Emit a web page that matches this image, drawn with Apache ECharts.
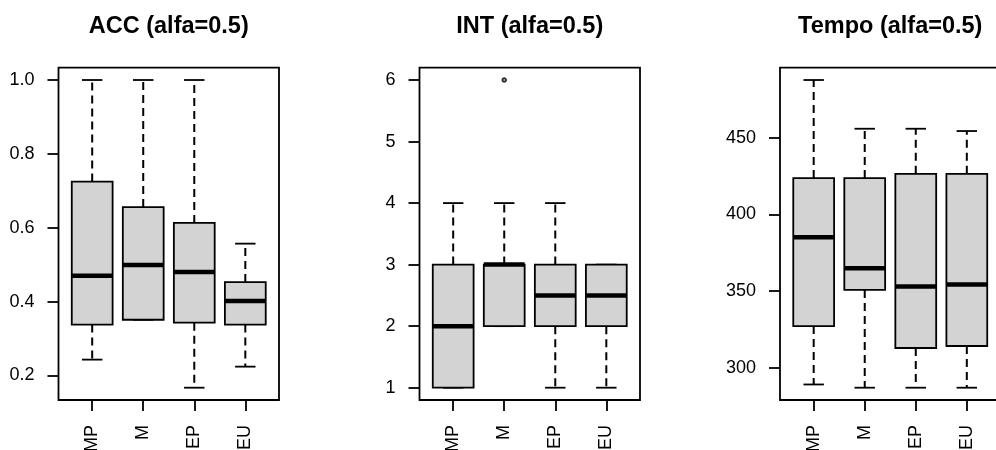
<!DOCTYPE html>
<html>
<head>
<meta charset="utf-8">
<script src="https://cdn.jsdelivr.net/npm/echarts@6/dist/echarts.min.js"></script>
<style>
  html, body { margin: 0; padding: 0; background: #fff; }
  #chart { width: 996px; height: 450px; }
</style>
</head>
<body>
<div id="chart"></div>
<script>
// Groups shown on every panel
const categories = ['MP', 'M', 'EP', 'EU'];

// Five-number summaries per group: [lower whisker, Q1, median, Q3, upper whisker]
const accStats = [
  [0.243, 0.338, 0.470, 0.725, 1.000],
  [0.351, 0.351, 0.499, 0.656, 1.000],
  [0.167, 0.343, 0.480, 0.613, 1.000],
  [0.224, 0.338, 0.402, 0.453, 0.557]
];
const intStats = [
  [1, 1, 2, 3, 4],
  [2, 2, 3, 3, 4],
  [1, 2, 2.5, 3, 4],
  [1, 2, 2.5, 3, 3]
];
const tempoStats = [
  [289.0, 327.1, 385.1, 423.7, 487.7],
  [286.9, 350.7, 364.9, 423.7, 455.9],
  [286.9, 312.8, 352.9, 426.5, 455.9],
  [286.9, 314.1, 354.2, 426.5, 454.4]
];

// Points beyond the whiskers: [group, value]
const accOutliers = [];
const intOutliers = [['M', 6]];
const tempoOutliers = [];

// Tick labels on the value axes
const accTicks = [0.2, 0.4, 0.6, 0.8, 1.0];
const intTicks = [1, 2, 3, 4, 5, 6];
const tempoTicks = [300, 350, 400, 450];

const titles = ['ACC (alfa=0.5)', 'INT (alfa=0.5)', 'Tempo (alfa=0.5)'];

const FONT = '"Liberation Sans", Arial, sans-serif';
const panels = [
  { stats: accStats, outliers: accOutliers, ticks: accTicks, fmt: v => v.toFixed(1) },
  { stats: intStats, outliers: intOutliers, ticks: intTicks, fmt: v => String(v) },
  { stats: tempoStats, outliers: tempoOutliers, ticks: tempoTicks, fmt: v => String(v) }
];
const gridLefts = [58.5, 419.5, 780];
const GRID_W = 220.5, GRID_TOP = 67.7, GRID_H = 332.3;

// Value range widened by 4% on each side, like a classic boxplot frame
function paddedRange(stats, outliers) {
  const vals = stats.flat().concat(outliers.map(o => o[1]));
  const lo = Math.min(...vals), hi = Math.max(...vals);
  const pad = (hi - lo) * 0.04;
  return [lo - pad, hi + pad];
}

const catPos = categories.map((c, i) => i + 1);
const xRange = [0.5 - 0.16, categories.length + 0.5 + 0.16];

function renderBox(params, api) {
  const x = api.value(0);
  const lo = api.value(1), q1 = api.value(2), med = api.value(3), q3 = api.value(4), hi = api.value(5);
  const half = 0.4, staple = 0.2;
  const cHi = api.coord([x, hi]), cQ3 = api.coord([x, q3]);
  const cQ1 = api.coord([x, q1]), cLo = api.coord([x, lo]);
  const boxTL = api.coord([x - half, q3]), boxBR = api.coord([x + half, q1]);
  const medL = api.coord([x - half, med]), medR = api.coord([x + half, med]);
  const stHiL = api.coord([x - staple, hi]), stHiR = api.coord([x + staple, hi]);
  const stLoL = api.coord([x - staple, lo]), stLoR = api.coord([x + staple, lo]);
  const lineStyle = { stroke: '#000', lineWidth: 1.8 };
  const dashStyle = { stroke: '#000', lineWidth: 2, lineDash: [8, 5] };
  return {
    type: 'group',
    children: [
      { type: 'line', shape: { x1: cQ3[0], y1: cQ3[1], x2: cHi[0], y2: cHi[1] }, style: dashStyle },
      { type: 'line', shape: { x1: cQ1[0], y1: cQ1[1], x2: cLo[0], y2: cLo[1] }, style: dashStyle },
      { type: 'line', shape: { x1: stHiL[0], y1: stHiL[1], x2: stHiR[0], y2: stHiR[1] }, style: lineStyle },
      { type: 'line', shape: { x1: stLoL[0], y1: stLoL[1], x2: stLoR[0], y2: stLoR[1] }, style: lineStyle },
      {
        type: 'rect',
        shape: { x: boxTL[0], y: boxTL[1], width: boxBR[0] - boxTL[0], height: boxBR[1] - boxTL[1] },
        style: { fill: '#d3d3d3', stroke: '#000', lineWidth: 1.8 }
      },
      {
        type: 'line',
        shape: { x1: medL[0], y1: medL[1], x2: medR[0], y2: medR[1] },
        style: { stroke: '#000', lineWidth: 4.5, lineCap: 'butt' }
      }
    ]
  };
}

const option = {
  animation: false,
  backgroundColor: '#fff',
  title: titles.map((t, i) => ({
    text: t,
    left: gridLefts[i] + GRID_W / 2 - 5,
    top: 10,
    textAlign: 'center',
    textStyle: { fontFamily: FONT, fontSize: 23.5, fontWeight: 'bold', color: '#000' }
  })),
  grid: gridLefts.map(l => ({
    left: l, top: GRID_TOP, width: GRID_W, height: GRID_H,
    outerBoundsMode: 'none',
    containLabel: false,
    show: true, borderColor: '#000', borderWidth: 1.8, backgroundColor: 'transparent'
  })),
  xAxis: panels.map((p, i) => ({
    type: 'value',
    gridIndex: i,
    min: xRange[0],
    max: xRange[1],
    axisLine: { show: false },
    splitLine: { show: false },
    axisTick: { show: true, customValues: catPos, length: 11, lineStyle: { color: '#000', width: 1.8 } },
    axisLabel: {
      show: true,
      customValues: catPos,
      rotate: 90,
      margin: 25,
      fontFamily: FONT,
      fontSize: 18,
      color: '#000',
      formatter: v => categories[Math.round(v) - 1]
    }
  })),
  yAxis: panels.map((p, i) => {
    const r = paddedRange(p.stats, p.outliers);
    return {
      type: 'value',
      gridIndex: i,
      min: r[0],
      max: r[1],
      axisLine: { show: false },
      splitLine: { show: false },
      axisTick: { show: true, customValues: p.ticks, length: 11, lineStyle: { color: '#000', width: 1.8 } },
      axisLabel: {
        show: true,
        customValues: p.ticks,
        margin: 24,
        fontFamily: FONT,
        fontSize: 18,
        color: '#000',
        formatter: p.fmt
      }
    };
  }),
  series: panels.flatMap((p, i) => [
    {
      type: 'custom',
      xAxisIndex: i,
      yAxisIndex: i,
      renderItem: renderBox,
      encode: { x: 0, y: [1, 2, 3, 4, 5] },
      data: p.stats.map((s, k) => [k + 1].concat(s)),
      z: 2
    },
    {
      type: 'scatter',
      xAxisIndex: i,
      yAxisIndex: i,
      symbol: 'emptyCircle',
      symbolSize: 3.5,
      itemStyle: { color: '#000', borderColor: '#000', borderWidth: 1.2 },
      data: p.outliers.map(o => [categories.indexOf(o[0]) + 1, o[1]]),
      z: 3
    }
  ])
};

const chart = echarts.init(document.getElementById('chart'), null, { renderer: 'canvas' });
chart.setOption(option);
</script>
</body>
</html>
